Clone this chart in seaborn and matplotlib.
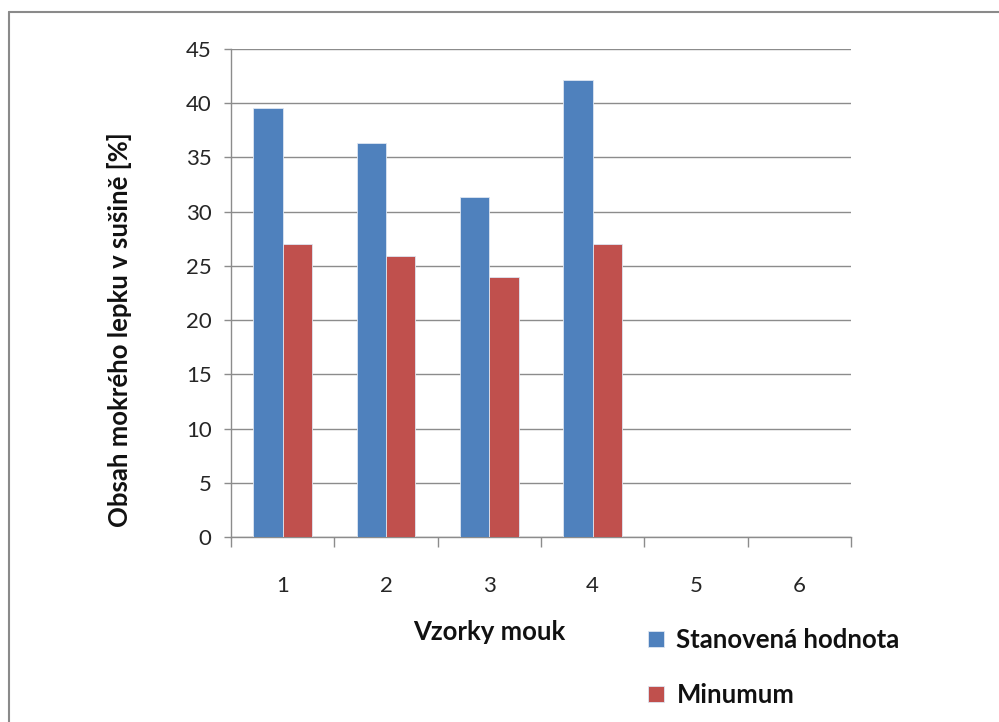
import numpy as np
import pandas as pd
import matplotlib
matplotlib.use("Agg")
import matplotlib.pyplot as plt
from matplotlib.lines import Line2D
from matplotlib.patches import Patch
import seaborn as sns

samples = ["1", "2", "3", "4", "5", "6"]
stanovena = [39.6, 36.3, 31.4, 42.1, np.nan, np.nan]
minimum = [27.0, 25.9, 24.0, 27.0, np.nan, np.nan]
series_names = ["Stanovená hodnota", "Minumum"]
series_colors = ["#4F81BD", "#C0504D"]
y_ticks = [0, 5, 10, 15, 20, 25, 30, 35, 40, 45]

df = pd.DataFrame({
    "vzorek": samples * 2,
    "hodnota": stanovena + minimum,
    "serie": [series_names[0]] * len(samples) + [series_names[1]] * len(samples),
})

sns.set_style("white")
plt.rcParams["font.family"] = ["Lato", "DejaVu Sans"]

grid_c = "#8C8C8C"
fig = plt.figure(figsize=(9.99, 7.22), dpi=100)
ax = fig.add_axes([0.2312, 0.2562, 0.6207, 0.6759])

sns.barplot(data=df, x="vzorek", y="hodnota", hue="serie", order=samples,
            hue_order=series_names, palette=series_colors, saturation=1,
            width=0.57, edgecolor="#DDE6F2", linewidth=0.6, errorbar=None,
            ax=ax, legend=False, zorder=3)

ax.set_ylim(0, 45)
ax.set_yticks(y_ticks)
ax.set_xlim(-0.5, len(samples) - 0.5)
ax.yaxis.grid(True, color=grid_c, linewidth=1.0, zorder=0)
ax.set_axisbelow(True)
for s in ["top", "right"]:
    ax.spines[s].set_visible(False)
for s in ["left", "bottom"]:
    ax.spines[s].set_color(grid_c)
    ax.spines[s].set_linewidth(1.0)

ax.tick_params(axis="y", length=5, width=1, color=grid_c, pad=9,
               labelsize=16, labelcolor="#262626", left=True)
ax.tick_params(axis="x", which="major", length=0, pad=28,
               labelsize=16, labelcolor="#262626")
ax.set_xticks(np.arange(-0.5, len(samples), 1.0), minor=True)
ax.tick_params(axis="x", which="minor", length=7, width=1, color=grid_c,
               bottom=True)

ax.set_xlabel("")
ax.set_ylabel("Obsah mokrého lepku v sušině [%]", fontsize=18.5,
              fontweight="bold", color="#111111")
ax.yaxis.set_label_coords(-0.16, 0.424)

fig.text(0.490, 1 - 632 / 722, "Vzorky mouk", fontsize=18.5,
         fontweight="bold", color="#111111", ha="center", va="center")

handles = [Patch(facecolor=c, edgecolor="#DDE6F2", linewidth=0.6)
           for c in series_colors]
fig.legend(handles, series_names, loc="upper left",
           bbox_to_anchor=(625 / 999, 1 - 605 / 722), frameon=False,
           handlelength=0.6, handleheight=0.6, handletextpad=0.5,
           labelspacing=1.2, prop={"size": 18.5, "weight": "bold"},
           labelcolor="#111111")

# chart-area frame
fig.add_artist(Line2D([9 / 999, 1.0], [1 - 12 / 722, 1 - 12 / 722],
                      transform=fig.transFigure, color="#8A8A8A", lw=1.5))
fig.add_artist(Line2D([9 / 999, 9 / 999], [0.0, 1 - 12 / 722],
                      transform=fig.transFigure, color="#8A8A8A", lw=1.5))

fig.savefig("out.png", dpi=100)
